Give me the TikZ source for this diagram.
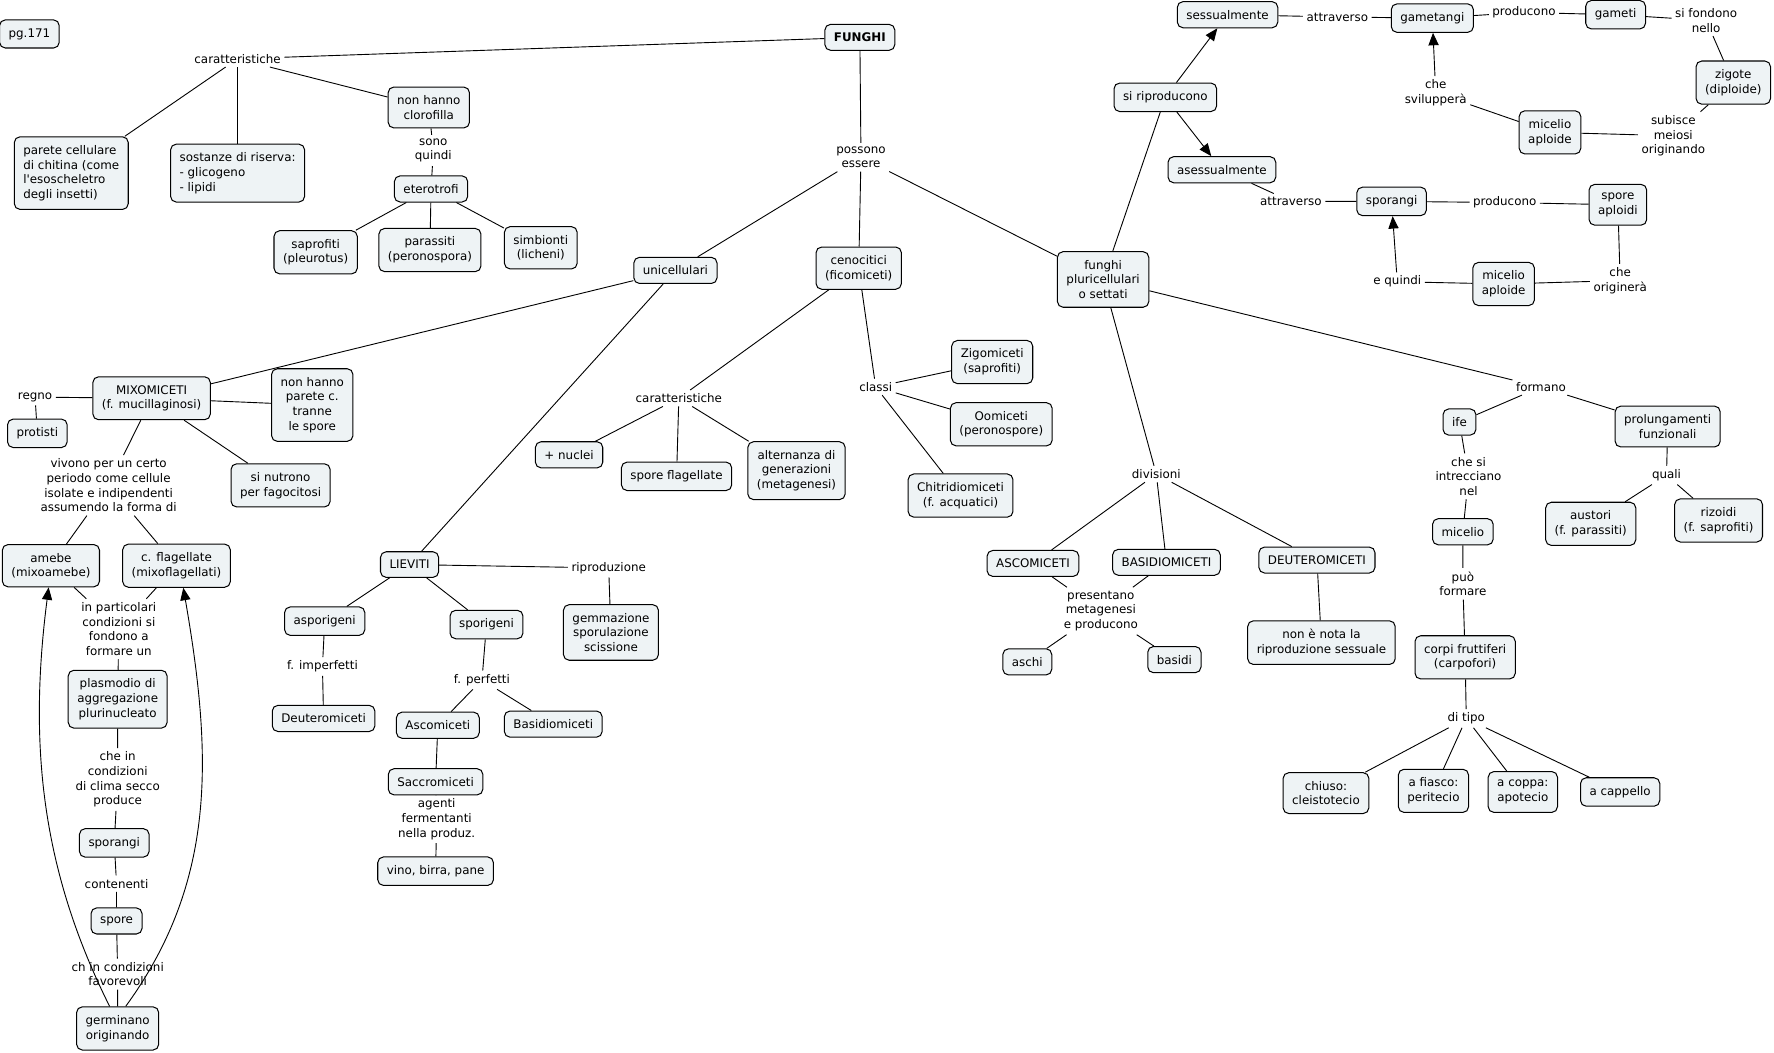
\documentclass[tikz,border=0pt]{standalone}
\usepackage{fontspec}
\setmainfont{DejaVu Sans}[Ligatures=TeXOff]
\usepackage{xcolor}
\usetikzlibrary{arrows.meta}
\definecolor{boxfill}{HTML}{EEF3F5}

\begin{document}
\begin{tikzpicture}[x=1pt, y=-1pt, font=\fontsize{10.5}{13}\selectfont,
  concept/.style={draw, rounded corners=5pt, fill=boxfill, line width=0.9pt, align=center, inner xsep=8pt, inner ysep=7.5pt},
  phrase/.style={align=center, inner sep=3pt},
  con/.style={line width=0.8pt},
  arr/.style={line width=0.8pt, -{Triangle[length=11pt,width=9pt]}}]
\useasboundingbox (0,0) rectangle (1568,930);

% Root
\node[concept] (pg) at (26,30) {pg.171};
\node[concept] (funghi) at (760,33) {\textbf{FUNGHI}};
\node[phrase] (car1) at (210,52) {caratteristiche};
\node[concept, align=left] (parete) at (63,153) {parete cellulare\\di chitina (come\\l'esoscheletro\\degli insetti)};
\node[concept, align=left] (sostanze) at (210,153) {sostanze di riserva:\\- glicogeno\\- lipidi};
\node[concept] (clorofilla) at (379,95) {non hanno\\clorofilla};
\node[phrase] (sono) at (383,133) {sono\\quindi};
\node[concept] (eterotrofi) at (381,167) {eterotrofi};
\node[concept] (saprofiti) at (279,223) {saprofiti\\(pleurotus)};
\node[concept] (parassiti) at (380,221) {parassiti\\(peronospora)};
\node[concept] (simbionti) at (478,219) {simbionti\\(licheni)};
\node[phrase] (possono) at (761,139) {possono\\essere};
\node[concept] (unicell) at (597,239) {unicellulari};
\node[concept] (cenocitici) at (759,237) {cenocitici\\(ficomiceti)};
\node[concept] (pluri) at (975,247) {funghi\\pluricellulari\\o settati};

% Riproduzione
\node[concept] (riproducono) at (1030,86) {si riproducono};
\node[concept] (sessual) at (1085,13) {sessualmente};
\node[phrase] (attrav1) at (1182,15) {attraverso};
\node[concept] (gametangi) at (1266,16) {gametangi};
\node[phrase] (produc1) at (1347,11) {producono};
\node[concept] (gameti) at (1428,13) {gameti};
\node[phrase] (fondono) at (1508,18) {si fondono\\nello};
\node[concept] (zigote) at (1532,73) {zigote\\(diploide)};
\node[phrase] (meiosi) at (1479,120) {subisce\\meiosi\\originando};
\node[concept] (micelio1) at (1370,117) {micelio\\aploide};
\node[phrase] (sviluppera) at (1269,82) {che\\svilupperà};
\node[concept] (asessual) at (1080,150) {asessualmente};
\node[phrase] (attrav2) at (1141,178) {attraverso};
\node[concept] (sporangi1) at (1230,178) {sporangi};
\node[phrase] (produc2) at (1330,179) {producono};
\node[concept] (sporeapl) at (1430,181) {spore\\aploidi};
\node[phrase] (originera) at (1432,248) {che\\originerà};
\node[concept] (micelio2) at (1329,251) {micelio\\aploide};
\node[phrase] (quindi) at (1235,249) {e quindi};

% Pluricellulari
\node[phrase] (formano) at (1362,342) {formano};
\node[concept] (ife) at (1290,373) {ife};
\node[concept] (prolung) at (1474,377) {prolungamenti\\funzionali};
\node[phrase] (quali) at (1473,420) {quali};
\node[concept] (austori) at (1406,463) {austori\\(f. parassiti)};
\node[concept] (rizoidi) at (1519,460) {rizoidi\\(f. saprofiti)};
\node[phrase] (intrecciano) at (1298,421) {che si\\intrecciano\\nel};
\node[concept] (micelio3) at (1293,470) {micelio};
\node[phrase] (puo) at (1293,516) {può\\formare};
\node[concept] (corpi) at (1295,581) {corpi fruttiferi\\(carpofori)};
\node[phrase] (ditipo) at (1296,635) {di tipo};
\node[concept] (chiuso) at (1172,701) {chiuso:\\cleistotecio};
\node[concept] (fiasco) at (1267,699) {a fiasco:\\peritecio};
\node[concept] (coppa) at (1346,700) {a coppa:\\apotecio};
\node[concept] (cappello) at (1432,700) {a cappello};
\node[phrase] (divisioni) at (1022,419) {divisioni};
\node[concept] (asco) at (913,498) {ASCOMICETI};
\node[concept] (basidio) at (1031,497) {BASIDIOMICETI};
\node[concept] (deutero) at (1164,495) {DEUTEROMICETI};
\node[phrase] (presentano) at (973,540) {presentano\\metagenesi\\e producono};
\node[concept] (aschi) at (908,585) {aschi};
\node[concept] (basidi) at (1038,583) {basidi};
\node[concept] (nonnota) at (1168,568) {non è nota la\\riproduzione sessuale};

% Cenocitici
\node[phrase] (car2) at (600,352) {caratteristiche};
\node[concept] (nuclei) at (503,402) {+ nuclei};
\node[concept] (sporefl) at (598,421) {spore flagellate};
\node[concept] (alternanza) at (704,416) {alternanza di\\generazioni\\(metagenesi)};
\node[phrase] (classi) at (774,342) {classi};
\node[concept] (zigomiceti) at (877,320) {Zigomiceti\\(saprofiti)};
\node[concept] (oomiceti) at (885,375) {Oomiceti\\(peronospore)};
\node[concept] (chitridio) at (849,438) {Chitridiomiceti\\(f. acquatici)};

% Mixomiceti
\node[concept] (mixo) at (134,352) {MIXOMICETI\\(f. mucillaginosi)};
\node[concept] (parete2) at (276,358) {non hanno\\parete c.\\tranne\\le spore};
\node[phrase] (regno) at (31,351) {regno};
\node[concept] (protisti) at (33,383) {protisti};
\node[concept] (fagocitosi) at (248,429) {si nutrono\\per fagocitosi};
\node[phrase] (vivono) at (96,429) {vivono per un certo\\periodo come cellule\\isolate e indipendenti\\assumendo la forma di};
\node[concept] (amebe) at (45,500) {amebe\\(mixoamebe)};
\node[concept] (flagellate) at (156,500) {c. flagellate\\(mixoflagellati)};
\node[phrase] (particolari) at (105,556) {in particolari\\condizioni si\\fondono a\\formare un};
\node[concept] (plasmodio) at (104,618) {plasmodio di\\aggregazione\\plurinucleato};
\node[phrase] (clima) at (104,689) {che in\\condizioni\\di clima secco\\produce};
\node[concept] (sporangi2) at (101,745) {sporangi};
\node[phrase] (contenenti) at (103,781) {contenenti};
\node[concept] (spore) at (103,814) {spore};
\node[phrase] (favorevoli) at (104,861) {ch in condizioni\\favorevoli};
\node[concept] (germinano) at (104,909) {germinano\\originando};

% Lieviti
\node[concept] (lieviti) at (362,499) {LIEVITI};
\node[phrase] (riproduzione) at (538,502) {riproduzione};
\node[concept] (gemmazione) at (540,559) {gemmazione\\sporulazione\\scissione};
\node[concept] (asporigeni) at (287,549) {asporigeni};
\node[phrase] (imperfetti) at (285,589) {f. imperfetti};
\node[concept] (deuteromiceti) at (286,635) {Deuteromiceti};
\node[concept] (sporigeni) at (430,552) {sporigeni};
\node[phrase] (perfetti) at (426,601) {f. perfetti};
\node[concept] (ascomiceti) at (387,641) {Ascomiceti};
\node[concept] (basidiomiceti) at (489,640) {Basidiomiceti};
\node[concept] (saccromiceti) at (385,691) {Saccromiceti};
\node[phrase] (agenti) at (386,724) {agenti\\fermentanti\\nella produz.};
\node[concept] (vino) at (385,770) {vino, birra, pane};

% Connectors
\draw[con] (funghi) -- (car1);
\draw[con] (car1) -- (parete);
\draw[con] (car1) -- (sostanze);
\draw[con] (car1) -- (clorofilla);
\draw[con] (clorofilla) -- (sono) -- (eterotrofi);
\draw[con] (eterotrofi) -- (saprofiti);
\draw[con] (eterotrofi) -- (parassiti);
\draw[con] (eterotrofi) -- (simbionti);
\draw[con] (funghi) -- (possono);
\draw[con] (possono) -- (unicell);
\draw[con] (possono) -- (cenocitici);
\draw[con] (possono) -- (pluri);

\draw[con] (pluri) -- (riproducono);
\draw[arr] (riproducono) -- (sessual);
\draw[arr] (riproducono) -- (asessual);
\draw[con] (sessual) -- (attrav1) -- (gametangi) -- (produc1) -- (gameti) -- (fondono) -- (zigote) -- (meiosi) -- (micelio1) -- (sviluppera);
\draw[arr] (sviluppera) -- (gametangi);
\draw[con] (asessual) -- (attrav2) -- (sporangi1) -- (produc2) -- (sporeapl) -- (originera) -- (micelio2) -- (quindi);
\draw[arr] (quindi) -- (sporangi1);

\draw[con] (pluri) -- (formano);
\draw[con] (formano) -- (ife);
\draw[con] (formano) -- (prolung);
\draw[con] (prolung) -- (quali);
\draw[con] (quali) -- (austori);
\draw[con] (quali) -- (rizoidi);
\draw[con] (ife) -- (intrecciano) -- (micelio3) -- (puo) -- (corpi) -- (ditipo);
\foreach \t in {chiuso, fiasco, coppa, cappello}
  \draw[con] (ditipo) -- (\t);
\draw[con] (pluri) -- (divisioni);
\foreach \t in {asco, basidio, deutero}
  \draw[con] (divisioni) -- (\t);
\draw[con] (asco) -- (presentano);
\draw[con] (basidio) -- (presentano);
\draw[con] (presentano) -- (aschi);
\draw[con] (presentano) -- (basidi);
\draw[con] (deutero) -- (nonnota);

\draw[con] (cenocitici) -- (car2);
\foreach \t in {nuclei, sporefl, alternanza}
  \draw[con] (car2) -- (\t);
\draw[con] (cenocitici) -- (classi);
\foreach \t in {zigomiceti, oomiceti, chitridio}
  \draw[con] (classi) -- (\t);

\draw[con] (unicell) -- (mixo);
\draw[con] (unicell) -- (lieviti);
\draw[con] (mixo) -- (parete2);
\draw[con] (mixo) -- (regno) -- (protisti);
\draw[con] (mixo) -- (fagocitosi);
\draw[con] (mixo) -- (vivono);
\draw[con] (vivono) -- (amebe);
\draw[con] (vivono) -- (flagellate);
\draw[con] (amebe) -- (particolari);
\draw[con] (flagellate) -- (particolari);
\draw[con] (particolari) -- (plasmodio) -- (clima) -- (sporangi2) -- (contenenti) -- (spore) -- (favorevoli) -- (germinano);
\draw[arr] (germinano.110) .. controls +(-60,-120) and +(-18,140) .. ([xshift=-2pt]amebe.south);
\draw[arr] (germinano.70) .. controls +(80,-110) and +(26,150) .. ([xshift=6pt]flagellate.south);

\draw[con] (lieviti) -- (riproduzione) -- (gemmazione);
\draw[con] (lieviti) -- (asporigeni) -- (imperfetti) -- (deuteromiceti);
\draw[con] (lieviti) -- (sporigeni) -- (perfetti);
\draw[con] (perfetti) -- (ascomiceti);
\draw[con] (perfetti) -- (basidiomiceti);
\draw[con] (ascomiceti) -- (saccromiceti) -- (agenti) -- (vino);
\end{tikzpicture}
\end{document}
